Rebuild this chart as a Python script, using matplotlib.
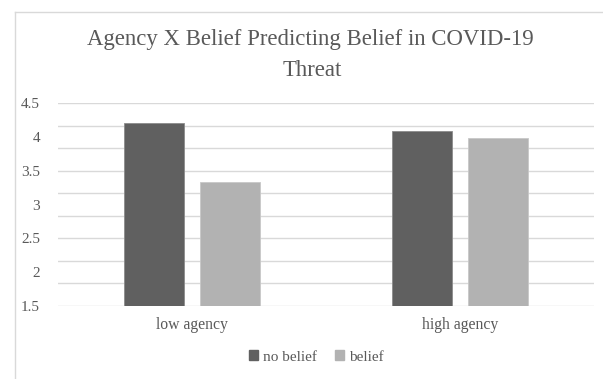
import numpy as np
import matplotlib
matplotlib.use("Agg")
import matplotlib.pyplot as plt
from matplotlib.patches import Patch
from matplotlib.lines import Line2D

categories = ["low agency", "high agency"]
series_names = ["no belief", "belief"]
no_belief = [4.21, 4.09]
belief = [3.33, 3.98]
y_ticks = [1.5, 2, 2.5, 3, 3.5, 4, 4.5]
y_tick_labels = ["1.5", "2", "2.5", "3", "3.5", "4", "4.5"]

W, H = 603, 379
fig = plt.figure(figsize=(W / 100, H / 100), dpi=100)
plt.rcParams['font.family'] = ['Liberation Serif', 'DejaVu Serif']

txt = "#595959"
grid_c = "#d9d9d9"
dark = "#606060"
light = "#b2b2b2"

ax = fig.add_axes([58 / W, 1 - 306 / H, (594 - 58) / W, (306 - 103) / H])
x = np.arange(len(categories))
bw = 0.224
off = 0.143
ax.bar(x - off, no_belief, bw, bottom=0, color=dark, edgecolor="#8c8c8c", linewidth=0.6, zorder=3)
ax.bar(x + off, belief, bw, bottom=0, color=light, edgecolor="#c8c8c8", linewidth=0.6, zorder=3)

ax.set_xlim(-0.5, len(categories) - 0.5)
ax.set_ylim(1.5, 4.5)
ax.set_yticks(y_ticks)
ax.set_yticklabels(y_tick_labels)
for yv in np.linspace(1.5, 4.5, 10):
    ax.axhline(yv, color=grid_c, linewidth=1.0, zorder=1)
ax.set_xticks(x)
ax.set_xticklabels(categories)
for s in ax.spines.values():
    s.set_visible(False)
ax.tick_params(axis="y", length=0, colors=txt, labelsize=11, pad=13)
ax.tick_params(axis="x", length=0, colors=txt, labelsize=11.3, pad=8)

fig.text(310.5 / W, 1 - 40 / H, "Agency X Belief Predicting Belief in COVID-19", ha="center", va="center",
         fontsize=16.4, color=txt)
fig.text(312 / W, 1 - 71 / H, "Threat", ha="center", va="center", fontsize=16.4, color=txt)

handles = [Patch(facecolor=dark, edgecolor=dark), Patch(facecolor=light, edgecolor=light)]
fig.legend(handles, series_names, loc="center", bbox_to_anchor=(316 / W, 1 - 357 / H), ncol=2,
           frameon=False, fontsize=11, labelcolor=txt, handlelength=0.6, handleheight=0.6,
           handletextpad=0.3, columnspacing=1.2)

fig.add_artist(Line2D([15 / W, 1], [1 - 12 / H, 1 - 12 / H], transform=fig.transFigure, color=grid_c, linewidth=1))
fig.add_artist(Line2D([15 / W, 15 / W], [0, 1 - 12 / H], transform=fig.transFigure, color=grid_c, linewidth=1))

fig.savefig("out.png", dpi=100)
